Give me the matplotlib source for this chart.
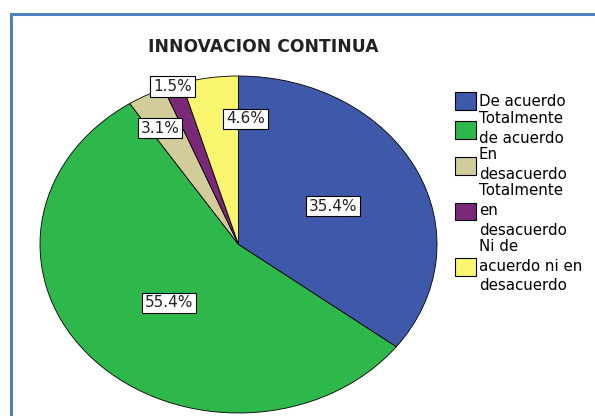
import matplotlib.pyplot as plt
from matplotlib.lines import Line2D

# Data: counts per answer (percentages derived from them)
categories = ['De acuerdo', 'Totalmente\nde acuerdo', 'En\ndesacuerdo',
              'Totalmente\nen\ndesacuerdo', 'Ni de\nacuerdo ni en\ndesacuerdo']
counts = [23, 36, 2, 1, 3]
colors = ['#3e58aa', '#2eb84c', '#d2cc9a', '#7a2878', '#faf56e']

# where the percent boxes sit (pie data coords)
label_xy = [(0.476, 0.228), (-0.350, -0.347), (-0.395, 0.691),
            (-0.332, 0.939), (0.035, 0.745)]

W, H = 595, 416
fig = plt.figure(figsize=(W / 100, H / 100), dpi=100)
fig.patch.set_facecolor('white')

# pie axes: stretched ellipse
ax = fig.add_axes([40 / W, 3 / H, 397 / W, 337 / H])
wedges, _ = ax.pie(counts, colors=colors, startangle=90, counterclock=False,
                   wedgeprops=dict(edgecolor='black', linewidth=0.6))
ax.set_aspect('auto')
ax.set_xlim(-1, 1)
ax.set_ylim(-1, 1)
ax.axis('off')

total = sum(counts)
for c, (x, y) in zip(counts, label_xy):
    ax.text(x, y, '%.1f%%' % (100.0 * c / total), ha='center', va='center',
            fontsize=11, color='#222222',
            bbox=dict(boxstyle='square,pad=0.18', facecolor='white',
                      edgecolor='black', linewidth=0.8))

# title
fig.text(263 / W, 1 - 47 / H, 'INNOVACION CONTINUA', ha='center', va='center',
         fontsize=12.3, fontweight='bold', color='#222222')

# legend
leg = fig.legend(wedges, categories, loc='upper left',
                 bbox_to_anchor=(455 / W, 1 - 92 / H), frameon=False,
                 fontsize=10.8, borderpad=0, borderaxespad=0,
                 handletextpad=0.2, handlelength=1.4, handleheight=1.45,
                 labelspacing=0.1)
for t in leg.get_texts():
    t.set_linespacing(1.38)
for h in leg.legend_handles:
    h.set_edgecolor('black')
    h.set_linewidth(0.8)

# blue frame lines at left and top
fig.add_artist(Line2D([11 / W, 11 / W], [0, 1 - 13.5 / H], transform=fig.transFigure,
                      color='#4f81bd', linewidth=2.2))
fig.add_artist(Line2D([11 / W, 1], [1 - 13.5 / H, 1 - 13.5 / H], transform=fig.transFigure,
                      color='#4f81bd', linewidth=2.2))

fig.savefig('out.png', dpi=100)
